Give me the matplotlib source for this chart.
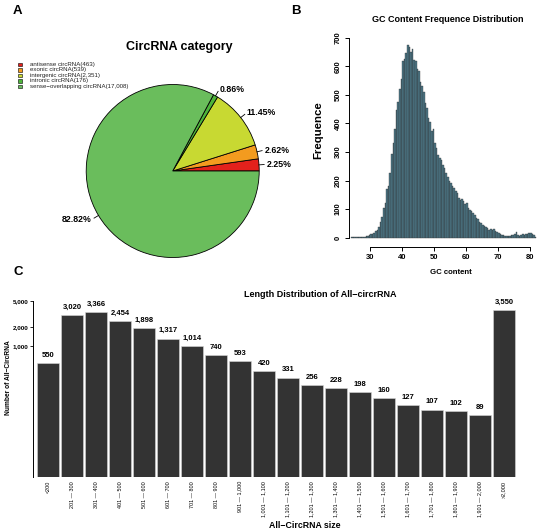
import numpy as np
import matplotlib
matplotlib.use("Agg")
import matplotlib.pyplot as plt
from matplotlib.patches import Rectangle

plt.rcParams['font.family'] = ['Liberation Sans', 'DejaVu Sans']

W, H = 550, 531

# ---------------- data ----------------
pie_labels = ["antisense circRNA(463)", "exonic circRNA(539)", "intergenic circRNA(2,351)",
              "intronic circRNA(176)", "sense\u2212overlapping circRNA(17,008)"]
pie_values = [463, 539, 2351, 176, 17008]
pie_colors = ["#E3211C", "#F39B1F", "#C8D932", "#4DB43A", "#6ABD5C"]

gc_start = 24.0
gc_binwidth = 0.5
gc_counts = [2, 3, 2, 3, 2, 4, 3, 3, 4, 6, 5, 8,
             12, 13, 18, 22, 26, 38, 55, 72, 105, 120, 172, 180, 228, 292, 330, 380,
             445, 475, 520, 555, 618, 625, 645, 675, 668, 650, 660, 622, 618, 590,
             584, 545, 530, 508, 470, 455, 420, 405, 372, 380, 330, 312, 290, 280,
             272, 255, 245, 225, 212, 198, 192, 180, 175, 162, 155, 140, 133, 134,
             128, 118, 120, 105, 96, 92, 85, 78, 68, 65, 56, 52, 44, 40, 38, 33,
             28, 30, 27, 30, 22, 20, 15, 13, 9, 8, 6, 5, 6, 7, 8, 9, 12, 20, 10, 6,
             8, 12, 11, 13, 14, 15, 16, 13, 8, 3]

len_labels = ["<200", "201 \u2014 300", "301 \u2014 400", "401 \u2014 500", "501 \u2014 600",
              "601 \u2014 700", "701 \u2014 800", "801 \u2014 900", "901 \u2014 1,000",
              "1,001 \u2014 1,100", "1,101 \u2014 1,200", "1,201 \u2014 1,300",
              "1,301 \u2014 1,400", "1,401 \u2014 1,500", "1,501 \u2014 1,600",
              "1,601 \u2014 1,700", "1,701 \u2014 1,800", "1,801 \u2014 1,900",
              "1,901 \u2014 2,000", ">2,000"]
len_values = [550, 3020, 3366, 2454, 1898, 1317, 1014, 740, 593, 420, 331, 256, 228,
              198, 160, 127, 107, 102, 89, 3550]
len_yticks = [1000, 2000, 5000]

fig = plt.figure(figsize=(W / 100, H / 100), dpi=100)


def fx(px):
    return px / W


def fy(py):
    return 1 - py / H


# ---------------- panel letters ----------------
fig.text(fx(17), fy(11), "A", fontsize=9.5, fontweight='bold', ha='center', va='center')
fig.text(fx(296), fy(11), "B", fontsize=9.5, fontweight='bold', ha='center', va='center')
fig.text(fx(18), fy(272), "C", fontsize=9.5, fontweight='bold', ha='center', va='center')

# ---------------- A: pie ----------------
cx, cy, r = 172.7, 171.0, 86.5
axA = fig.add_axes([fx(cx - r), fy(cy + r), 2 * r / W, 2 * r / H])
wedges, _ = axA.pie(pie_values, colors=pie_colors, startangle=0, counterclock=True,
                    wedgeprops=dict(edgecolor='black', linewidth=0.6), radius=1.0)
axA.set_xlim(-1, 1)
axA.set_ylim(-1, 1)
axA.set_aspect('equal')
axA.axis('off')
total = sum(pie_values)
for w, v in zip(wedges, pie_values):
    ang = np.deg2rad((w.theta1 + w.theta2) / 2)
    c, s = np.cos(ang), np.sin(ang)
    axA.plot([c, 1.06 * c], [s, 1.06 * s], color='black', lw=0.6, clip_on=False)
    ha = 'left' if c >= 0 else 'right'
    axA.text(1.09 * c, 1.09 * s, f"{100 * v / total:.2f}%", ha=ha, va='center',
             fontsize=6.3, fontweight='bold', clip_on=False)

fig.text(fx(179), fy(47), "CircRNA category", fontsize=9, fontweight='bold',
         ha='center', va='center')

# legend
for i, (lab, col) in enumerate(zip(pie_labels, pie_colors)):
    yy = 64.5 + i * 5.45
    fig.patches.append(Rectangle((fx(18), fy(yy + 1.7)), 3.5 / W, 3.5 / H,
                                 facecolor=col, edgecolor='black', linewidth=0.4,
                                 transform=fig.transFigure, figure=fig))
    fig.text(fx(29.5), fy(yy), lab, fontsize=4.4, ha='left', va='center', color='#222222')

# ---------------- B: histogram ----------------
x_left, x_right = 23.2, 84.0
y_bot, y_top = -31, 720
axB_l = 370.3 + (x_left - 30) * 3.193
axB_r = 370.3 + (x_right - 30) * 3.193
axB_b = 237.7 - y_bot * 0.2859
axB_t = 237.7 - y_top * 0.2859
axB = fig.add_axes([fx(axB_l), fy(axB_b), (axB_r - axB_l) / W, (axB_b - axB_t) / H])
edges = gc_start + gc_binwidth * np.arange(len(gc_counts))
axB.bar(edges, gc_counts, width=gc_binwidth, align='edge', color='#4D7888',
        edgecolor='#2f2f2f', linewidth=0.25)
axB.set_xlim(x_left, x_right)
axB.set_ylim(y_bot, y_top)
for sp in ['top', 'right']:
    axB.spines[sp].set_visible(False)
axB.spines['left'].set_bounds(0, 700)
axB.spines['bottom'].set_bounds(30, 80)
for sp in ['left', 'bottom']:
    axB.spines[sp].set_linewidth(0.7)
axB.set_xticks(range(30, 81, 10))
axB.set_yticks(range(0, 701, 100))
axB.tick_params(axis='both', length=3, width=0.7, labelsize=5.5, pad=2)
for t in axB.get_xticklabels():
    t.set_fontweight('bold')
for t in axB.get_yticklabels():
    t.set_fontweight('bold')
    t.set_rotation(90)
    t.set_va('center')
fig.text(fx(448), fy(19), "GC Content Frequence Distribution", fontsize=6.5,
         fontweight='bold', ha='center', va='center')
fig.text(fx(318), fy(130), "Frequence", fontsize=8.2, fontweight='bold', rotation=90,
         ha='center', va='center')
fig.text(fx(451), fy(273), "GC content", fontsize=5.6, fontweight='bold',
         ha='center', va='center')

# ---------------- C: length distribution ----------------
step = 24.0
c_left, c_right = -0.625, 19.6
axC_l = 48 + c_left * step
axC_r = 48 + c_right * step
yb, yt = 10, 6000
px_dec = 65.2
axC_bpx = 346.3 + px_dec * (3 - np.log10(yb))
axC_tpx = 346.3 - px_dec * (np.log10(yt) - 3)
axC = fig.add_axes([fx(axC_l), fy(axC_bpx), (axC_r - axC_l) / W, (axC_bpx - axC_tpx) / H])
xpos = np.arange(len(len_values))
axC.bar(xpos, len_values, width=0.915, color='#333333', edgecolor='#d8d8d8',
        linewidth=0.4, bottom=0)
axC.set_yscale('log')
axC.set_ylim(yb, yt)
axC.set_xlim(c_left, c_right)
for sp in ['top', 'right', 'bottom']:
    axC.spines[sp].set_visible(False)
axC.spines['left'].set_bounds(yb, 5000)
axC.spines['left'].set_linewidth(0.7)
axC.set_yticks(len_yticks)
axC.set_yticklabels([f"{v:,}" for v in len_yticks], fontsize=4.5, fontweight='bold')
axC.yaxis.set_minor_locator(matplotlib.ticker.NullLocator())
axC.tick_params(axis='y', length=2, width=0.6, pad=1.5)
axC.set_xticks(xpos)
axC.set_xticklabels(len_labels, rotation=90, fontsize=3.9, va='top', ha='center')
axC.tick_params(axis='x', length=0, pad=3)
for x, v in zip(xpos, len_values):
    axC.annotate(f"{v:,}", (x, v), xytext=(0, 3), textcoords='offset points',
                 ha='center', va='bottom', fontsize=5.5, fontweight='bold')
fig.text(fx(320), fy(294.5), "Length Distribution of All\u2212circrRNA", fontsize=6.5,
         fontweight='bold', ha='center', va='center')
fig.text(fx(9), fy(378), "Number of All\u2212CircRNA", fontsize=4.8, fontweight='bold',
         rotation=90, ha='center', va='center')
fig.text(fx(305), fy(525.5), "All\u2212CircRNA size", fontsize=6.3, fontweight='bold',
         ha='center', va='center')

fig.savefig("out.png", dpi=100)
